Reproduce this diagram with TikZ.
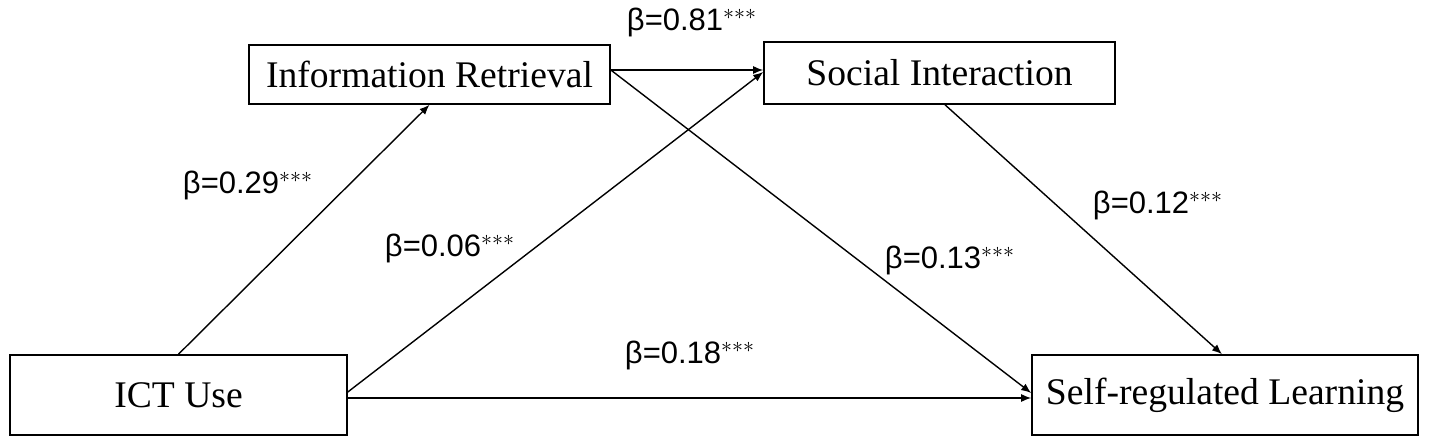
\documentclass[tikz,border=0pt]{standalone}
\usepackage{fontspec}
\usetikzlibrary{arrows.meta}
\setmainfont{Liberation Serif}
\newfontfamily\lab{Liberation Sans}
\begin{document}
\begin{tikzpicture}[x=0.5pt,y=-0.5pt,
 box/.style={draw,line width=0.8pt,inner sep=0pt,font=\fontsize{18.8}{21}\selectfont},
 arr/.style={-{Latex[length=5pt,width=4pt]},line width=0.7pt},
 lb/.style={font=\lab\fontsize{15.5}{18}\selectfont}]
\useasboundingbox (0,0) rectangle (1429,443);
\node[box,minimum width=361*0.5pt,minimum height=59*0.5pt] (ir) at (429.5,74.5) {Information Retrieval};
\node[box,minimum width=351*0.5pt,minimum height=62*0.5pt] (si) at (939.5,73) {Social Interaction};
\node[box,minimum width=337*0.5pt,minimum height=80*0.5pt] (ict) at (178.5,395) {ICT Use};
\node[box,minimum width=386*0.5pt,minimum height=80*0.5pt] (srl) at (1225,395) {Self-regulated Learning};
\draw[arr] (ict.north) -- (ir.south);
\draw[arr] (ict.east |- 0,392) -- (si.west |- 0,72);
\draw[arr] (ict.east |- 0,398) -- (srl.west |- 0,398);
\draw[arr] (ir.east |- 0,70) -- (si.west |- 0,70);
\draw[arr] (ir.east |- 0,70) -- (srl.west |- 0,393);
\draw[arr] (si.south -| 945,0) -- (srl.north -| 1222,0);
\node[lb] (l1) at (692,22) {β=0.81$^{***}$};
\node[lb] (l2) at (248,185) {β=0.29$^{***}$};
\node[lb] (l3) at (450,248) {β=0.06$^{***}$};
\node[lb] (l4) at (950,260) {β=0.13$^{***}$};
\node[lb] (l5) at (1158,205) {β=0.12$^{***}$};
\node[lb] (l6) at (690,355) {β=0.18$^{***}$};
\end{tikzpicture}
\end{document}
